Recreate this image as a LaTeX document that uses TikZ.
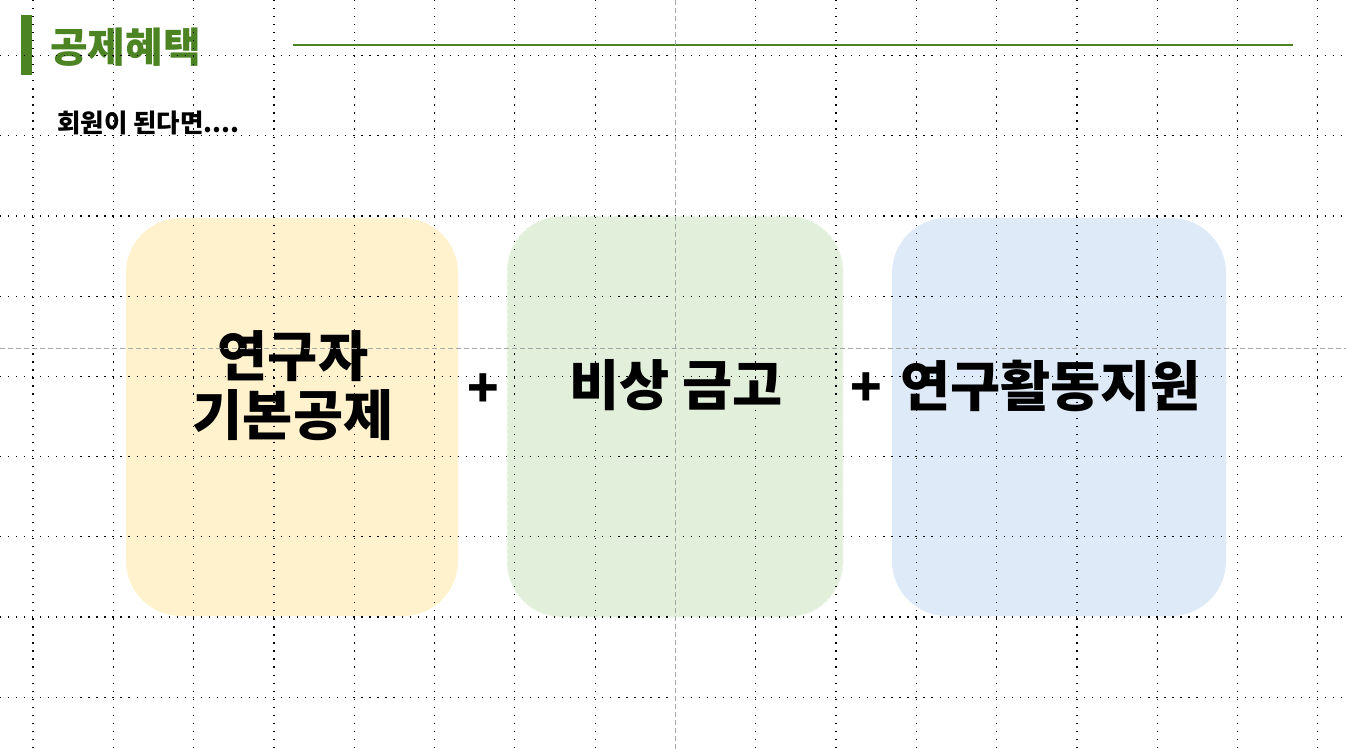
\documentclass[tikz,border=0pt]{standalone}
\usepackage{fontspec}
\setmainfont{Noto Sans CJK KR}
\definecolor{titlegreen}{HTML}{4C8424}
\definecolor{cardyellow}{HTML}{FFF2CC}
\definecolor{cardgreen}{HTML}{E2EFDA}
\definecolor{cardblue}{HTML}{DEEAF7}
\definecolor{guidegray}{HTML}{A6A6A6}
\tikzset{
  gridline/.style={black, line width=1.2pt, dash pattern=on 1.2pt off 6.83pt},
  guideline/.style={guidegray, line width=1pt, dash pattern=on 5pt off 3pt},
  card/.style={rectangle, rounded corners=55pt, inner sep=0pt},
  bigtext/.style={font=\bfseries\fontsize{54.5}{59}\selectfont, inner sep=0pt, align=center},
  plustext/.style={font=\bfseries\fontsize{52}{56}\selectfont, inner sep=0pt},
}
\begin{document}
\begin{tikzpicture}[x=1pt,y=-1pt]
\useasboundingbox[fill=white] (0,0) rectangle (1346,749);
% cards
\node[card, fill=cardyellow, minimum width=332pt, minimum height=398pt] (c1) at (292,417) {};
\node[card, fill=cardgreen, draw=cardgreen!40!white, line width=1.5pt, dash pattern=on 3pt off 3pt, minimum width=336pt, minimum height=401pt] (c2) at (675,416.5) {};
\node[card, fill=cardblue, minimum width=334pt, minimum height=398pt] (c3) at (1059,417) {};
% header
\fill[titlegreen] (21,15) rectangle (32,75);
\node[font=\bfseries\fontsize{41}{44}\selectfont, text=titlegreen, inner sep=0pt] (title) at (125.5,47) {공제혜택};
\coordinate (ruleA) at (293,45.5);
\coordinate (ruleB) at (1293,45.5);
\draw[titlegreen, line width=2pt] (ruleA) -- (ruleB);
\node[font=\bfseries\fontsize{25.5}{28}\selectfont, inner sep=0pt, anchor=west] (sub) at (57,122.5) {회원이 된다면....};
% card texts
\node[bigtext] (t1) at (293,386) {연구자\\기본공제};
\node[bigtext] (t2) at (676,385) {비상 금고};
\node[bigtext] (t3) at (1050.5,386) {연구활동지원};
\node[plustext] (p1) at (483.5,391) {+};
\node[plustext] (p2) at (866,390) {+};
% grid
\foreach \k in {0,...,16} {
  \draw[gridline] (33+80.3*\k,0) -- (33+80.3*\k,749);
}
\foreach \k in {0,...,8} {
  \draw[gridline] (0,55.5+80.2*\k) -- (1346,55.5+80.2*\k);
}
\draw[guideline] (0,348) -- (1346,348);
\draw[guideline] (675.5,0) -- (675.5,749);
\end{tikzpicture}
\end{document}
